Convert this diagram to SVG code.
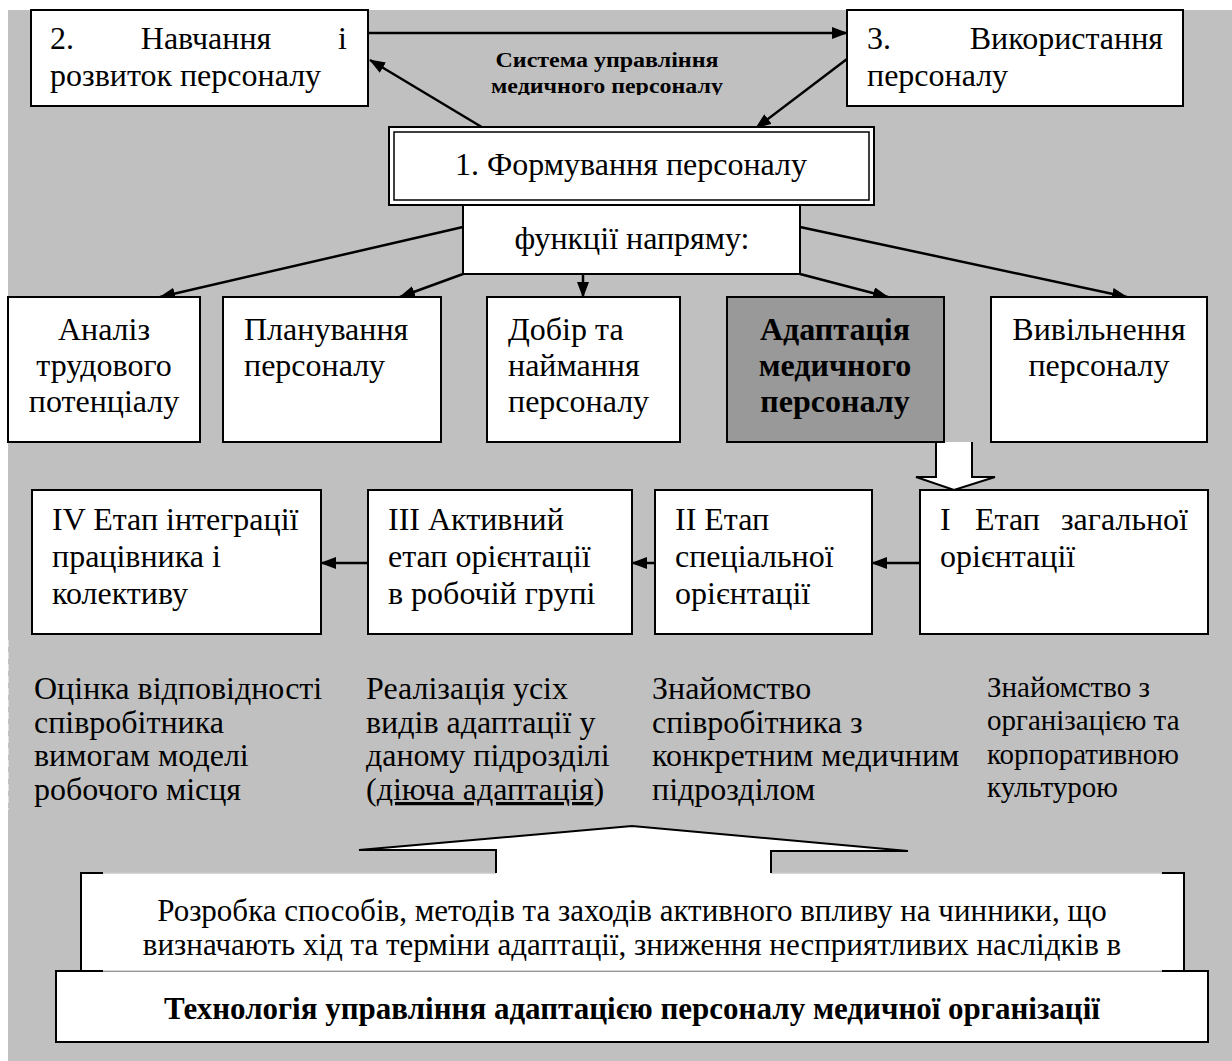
<svg xmlns="http://www.w3.org/2000/svg" width="1232" height="1061" viewBox="0 0 1232 1061" font-family="'Liberation Serif', 'DejaVu Serif', serif">
<defs>
<marker id="ah" markerUnits="userSpaceOnUse" markerWidth="16" markerHeight="12" refX="15" refY="6" orient="auto">
<path d="M0,0 L16,6 L0,12 z" fill="#000"/>
</marker>
<clipPath id="titleclip"><rect x="400" y="40" width="420" height="55"/></clipPath>
<style>
.bx{fill:#fff;stroke:#000;stroke-width:2}
text{font-family:'Liberation Serif','DejaVu Serif',serif;font-size:32px;fill:#000}
.b{font-weight:bold}
.c{text-anchor:middle}
.sm{font-size:29px}
.md{font-size:31px}
.ti{font-size:20px;font-weight:bold;text-anchor:middle}
.ln{stroke:#000;stroke-width:2.5;fill:none;marker-end:url(#ah)}
.thin{stroke:#000;stroke-width:2;fill:none}
.lg{stroke:#c8c8c8;stroke-width:1.5;fill:none}
</style>
</defs>
<rect x="0" y="0" width="1232" height="1061" fill="#fff"/>
<rect x="8" y="10" width="1224" height="1051" fill="#c0c0c0"/>
<line x1="7" y1="640" x2="7" y2="810" stroke="#fff" stroke-width="3" stroke-dasharray="7,5"/>

<g id="connectors">
<line class="ln" x1="368" y1="33" x2="847" y2="33"/>
<line class="ln" x1="485" y1="129" x2="370" y2="60"/>
<line class="ln" x1="847" y1="59" x2="756" y2="128"/>
<line class="ln" x1="463" y1="227" x2="160" y2="297"/>
<line class="ln" x1="463" y1="274" x2="400" y2="297"/>
<line class="ln" x1="583" y1="274" x2="583" y2="297"/>
<line class="ln" x1="800" y1="274" x2="888" y2="297"/>
<line class="ln" x1="800" y1="227" x2="1127" y2="297"/>
<line class="ln" x1="920" y1="563" x2="872" y2="563"/>
<line class="ln" x1="655" y1="563" x2="632" y2="563"/>
<line class="ln" x1="368" y1="563" x2="321" y2="563"/>
<path d="M936,442 L936,477 L916,477 L954,490 L995,477 L972,477 L972,442" fill="#fff" stroke="#000" stroke-width="2"/>
</g>

<g id="title" clip-path="url(#titleclip)">
<text class="ti" x="607" y="67" textLength="223" lengthAdjust="spacingAndGlyphs">Система управління</text>
<text class="ti" x="607" y="93" textLength="232" lengthAdjust="spacingAndGlyphs">медичного персоналу</text>
</g>

<g id="n2">
<rect class="bx" x="31" y="10" width="337" height="96"/>
<text x="50" y="49">2.</text>
<text class="c" x="206" y="49">Навчання</text>
<text x="338" y="49">і</text>
<text x="50" y="86">розвиток персоналу</text>
</g>

<g id="n3">
<rect class="bx" x="847" y="10" width="336" height="96"/>
<text x="867" y="49">3.</text>
<text x="1163" y="49" text-anchor="end">Використання</text>
<text x="867" y="86">персоналу</text>
</g>

<g id="n1">
<rect x="389" y="127" width="485" height="78" fill="#fff" stroke="#000" stroke-width="2"/>
<rect x="394" y="132" width="475" height="68" fill="none" stroke="#000" stroke-width="1.5"/>
<text class="c" x="631" y="175">1. Формування персоналу</text>
</g>

<g id="nf">
<rect class="bx" x="463" y="205" width="337" height="69"/>
<text class="c" x="632" y="249">функції напряму:</text>
</g>

<g id="na">
<rect class="bx" x="8" y="297" width="192" height="145"/>
<text class="c" x="104" y="340">Аналіз</text>
<text class="c" x="104" y="376">трудового</text>
<text class="c" x="104" y="412">потенціалу</text>
</g>

<g id="np">
<rect class="bx" x="223" y="297" width="218" height="145"/>
<text x="244" y="340">Планування</text>
<text x="244" y="376">персоналу</text>
</g>

<g id="nd">
<rect class="bx" x="487" y="297" width="193" height="145"/>
<text x="508" y="340">Добір та</text>
<text x="508" y="376">наймання</text>
<text x="508" y="412">персоналу</text>
</g>

<g id="nad">
<rect x="727" y="297" width="217" height="145" fill="#999" stroke="#000" stroke-width="2"/>
<text class="b c" x="835" y="340">Адаптація</text>
<text class="b c" x="835" y="376">медичного</text>
<text class="b c" x="835" y="412">персоналу</text>
</g>

<g id="nv">
<rect class="bx" x="991" y="297" width="216" height="145"/>
<text class="c" x="1099" y="340">Вивільнення</text>
<text class="c" x="1099" y="376">персоналу</text>
</g>

<g id="s4">
<rect class="bx" x="32" y="490" width="289" height="144"/>
<text x="52" y="530">IV Етап інтеграції</text>
<text x="52" y="567">працівника і</text>
<text x="52" y="604">колективу</text>
</g>

<g id="s3">
<rect class="bx" x="368" y="490" width="264" height="144"/>
<text x="388" y="530">III Активний</text>
<text x="388" y="567">етап орієнтації</text>
<text x="388" y="604">в робочій групі</text>
</g>

<g id="s2">
<rect class="bx" x="655" y="490" width="217" height="144"/>
<text x="675" y="530">II Етап</text>
<text x="675" y="567">спеціальної</text>
<text x="675" y="604">орієнтації</text>
</g>

<g id="s1">
<rect class="bx" x="920" y="490" width="288" height="144"/>
<text x="940" y="530">I</text>
<text x="975" y="530">Етап</text>
<text x="1188" y="530" text-anchor="end">загальної</text>
<text x="940" y="567">орієнтації</text>
</g>

<g id="d4">
<text x="34" y="699">Оцінка відповідності</text>
<text x="34" y="733">співробітника</text>
<text x="34" y="766">вимогам моделі</text>
<text x="34" y="800">робочого місця</text>
</g>

<g id="d3">
<text x="366" y="699">Реалізація усіх</text>
<text x="366" y="733">видів адаптації у</text>
<text x="366" y="766">даному підрозділі</text>
<text x="366" y="800">(<tspan text-decoration="underline">діюча адаптація</tspan>)</text>
</g>

<g id="d2">
<text x="652" y="699">Знайомство</text>
<text x="652" y="733">співробітника з</text>
<text x="652" y="766">конкретним медичним</text>
<text x="652" y="800">підрозділом</text>
</g>

<g id="d1">
<text class="sm" x="987" y="697">Знайомство з</text>
<text class="sm" x="987" y="730">організацією та</text>
<text class="sm" x="987" y="764">корпоративною</text>
<text class="sm" x="987" y="797">культурою</text>
</g>

<g id="tech">
<rect class="bx" x="56" y="971" width="1152" height="71"/>
<text class="b c md" x="632" y="1019">Технологія управління адаптацією персоналу медичної організації</text>
</g>

<g id="callout">
<path d="M81,873 L496,873 L496,850 L359,850 L632,826 L908,851 L771,851 L771,873 L1184,873 L1184,971 L81,971 Z" fill="#fff" stroke="none"/>
<path class="lg" d="M103,873 L496,873 M771,873 L1162,873 M103,971 L1162,971"/>
<path class="thin" d="M496,873 L496,850 L359,850 L632,826 L908,851 L771,851 L771,873"/>
<path class="thin" d="M103,873 L81,873 L81,971 L103,971"/>
<path class="thin" d="M1162,873 L1184,873 L1184,971 L1162,971"/>
<text class="c md" x="632" y="921">Розробка способів, методів та заходів активного впливу на чинники, що</text>
<text class="c md" x="632" y="955">визначають хід та терміни адаптації, зниження несприятливих наслідків в</text>
</g>
</svg>
